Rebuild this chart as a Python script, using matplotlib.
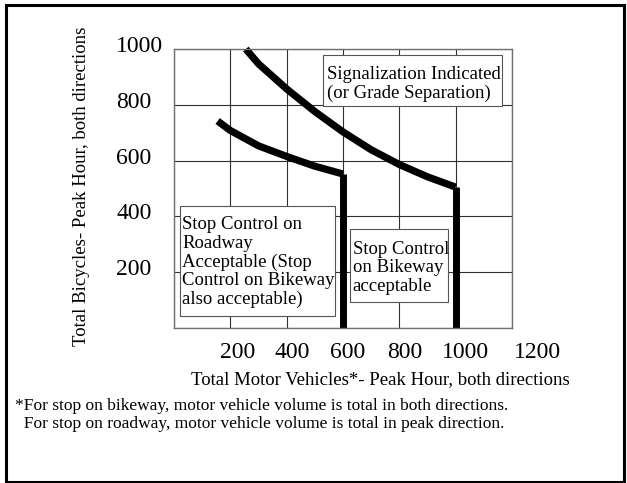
import matplotlib
matplotlib.use("Agg")
import matplotlib.pyplot as plt
from matplotlib.patches import Rectangle
from matplotlib.transforms import ScaledTranslation

plt.rcParams['font.family'] = ['Liberation Serif', 'DejaVu Serif']

# signalization threshold (upper curve, ends at 1000 vehicles)
upper_x = [255, 300, 400, 500, 600, 700, 800, 900, 1000]
upper_y = [1000, 947, 857, 776, 703, 639, 586, 542, 505]

# stop control on roadway threshold (lower curve, ends at 600 vehicles)
lower_x = [155, 200, 300, 400, 500, 600]
lower_y = [742, 708, 653, 615, 580, 552]

# vertical cut-offs
cut_x = [600, 1000]
cut_top = [552, 505]

x_ticks = [200, 400, 600, 800, 1000, 1200]
y_ticks = [200, 400, 600, 800, 1000]

# region labels: text, x, y (data units)
region_text = [
    "Signalization Indicated\n(or Grade Separation)",
    "Stop Control on\nRoadway\nAcceptable (Stop\nControl on Bikeway\nalso acceptable)",
    "Stop Control\non Bikeway\nacceptable",
]
region_pos = [(545, 874), (30, 236), (634, 216)]
# frames around them: x0, x1, y0, y1 (data units)
region_box = [(529, 1165, 797, 980), (21, 572, 44, 438), (625, 973, 94, 356)]

footnote = ("*For stop on bikeway, motor vehicle volume is total in both directions.\n"
            "  For stop on roadway, motor vehicle volume is total in peak direction.")

fig = plt.figure(figsize=(6.27, 4.83), dpi=100)
ax = fig.add_axes([0.2775, 0.3209, 0.539, 0.5776])

ax.set_xlim(0, 1200)
ax.set_ylim(0, 1000)

# grid
ax.grid(True, color='#303030', linewidth=0.8)
ax.set_axisbelow(True)
for s in ax.spines.values():
    s.set_color('#707070')
    s.set_linewidth(1.0)

# curves
ax.plot(upper_x, upper_y, color='black', linewidth=5.2, solid_capstyle='butt', clip_on=False)
ax.plot(lower_x, lower_y, color='black', linewidth=5.2, solid_capstyle='butt', clip_on=False)
for cx, ct in zip(cut_x, cut_top):
    ax.plot([cx, cx], [0, ct], color='black', linewidth=5, solid_capstyle='butt')

# boxes
for (x0, x1, y0, y1) in region_box:
    ax.add_patch(Rectangle((x0, y0), x1 - x0, y1 - y0, fc='white', ec='#555555', lw=0.8, zorder=4))
spacing = [1.17, 1.13, 1.13]
for txt, (tx, ty), ls in zip(region_text, region_pos, spacing):
    ax.text(tx, ty, txt, fontsize=13.5, ha='left', va='center', linespacing=ls, zorder=5)

# tick labels
ax.tick_params(length=0, labelsize=17, pad=10)
ax.set_xticks([0] + x_ticks)
ax.set_xticklabels([''] + [str(v) for v in x_ticks])
ax.set_yticks([0] + y_ticks)
ax.set_yticklabels([''] + [str(v) for v in y_ticks])

x_shift = [0, 7, 6, 5, 5, 10, 26]
for lab, dx in zip(ax.get_xticklabels(), x_shift):
    lab.set_transform(lab.get_transform() + ScaledTranslation(dx / 100, 0, fig.dpi_scale_trans))
for lab in ax.get_yticklabels():
    lab.set_horizontalalignment('left')
    lab.set_transform(lab.get_transform() + ScaledTranslation(-0.44, 0.05, fig.dpi_scale_trans))

# axis titles
fig.text(380 / 627, 1 - 380 / 483, "Total Motor Vehicles*- Peak Hour, both directions",
         fontsize=13.5, ha='center', va='center')
fig.text(82 / 627, 1 - 186 / 483, "Total Bicycles- Peak Hour, both directions",
         fontsize=13.5, ha='center', va='center', rotation=90)

# footnote
fig.text(15 / 627, 1 - 415 / 483, footnote, fontsize=12.5, ha='left', va='center', linespacing=1.15)

# outer frame
fig.patches.append(Rectangle((5.5 / 627, 1.5 / 483), 618 / 627, 477 / 483, transform=fig.transFigure,
                             fill=False, ec='black', lw=2.2))

fig.savefig("out.png", dpi=100)
